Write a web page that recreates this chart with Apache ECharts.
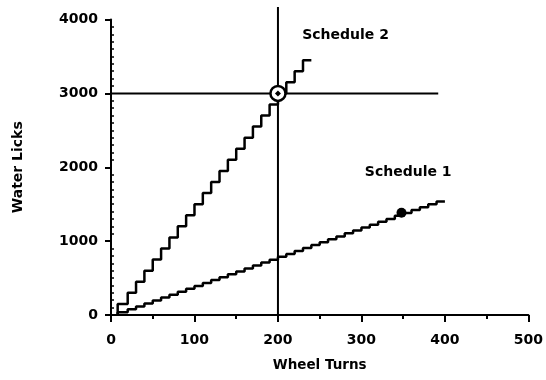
<!DOCTYPE html>
<html>
<head>
    <meta charset="utf-8">
    <title>Water Licks vs Wheel Turns</title>
    <script src="https://cdn.jsdelivr.net/npm/echarts@6/dist/echarts.min.js"></script>
</head>
<body style="margin:0;">
    <div id='main' style='width:546px;height:380px;'></div>
    <script>
        // data
        var sched1Turns = [8, 8, 20, 30, 40, 50, 60, 70, 80, 90, 100, 110, 120, 130, 140, 150, 160, 170, 180, 190, 200,
                           210, 220, 230, 240, 250, 260, 270, 280, 290, 300, 310, 320, 330, 340, 350, 360, 370, 380, 390, 400];
        var sched1Licks = [0, 38, 78, 116, 157, 196, 236, 275, 316, 354, 393, 432, 474, 512, 553, 590, 631, 670, 712, 748, 788,
                           827, 868, 906, 947, 985, 1026, 1064, 1105, 1143, 1183, 1222, 1263, 1300, 1342, 1380, 1420, 1458, 1500, 1538, 1538];
        var sched2Turns = [8, 8, 20, 30, 40, 50, 60, 70, 80, 90, 100, 110, 120, 130, 140, 150, 160, 170, 180, 190, 200, 210, 220, 230, 240];
        var sched2Licks = [0, 150, 300, 450, 600, 750, 900, 1050, 1200, 1350, 1500, 1650, 1800, 1950, 2100, 2250, 2400, 2550, 2700, 2850, 3000, 3150, 3300, 3450, 3450];
        var crossPoint = [200, 3000];
        var sched1Dot = [348, 1385];
        var hLine = [[-9, 3000], [392, 3000]];
        var vLine = [[200, 0], [200, 4170]];
        var seriesLabels = [
            {name: 'Schedule 2', value: [281, 3785]},
            {name: 'Schedule 1', value: [356, 1925]}
        ];
        var xTicks = [0, 100, 200, 300, 400, 500];
        var yTicks = [0, 1000, 2000, 3000, 4000];

        function zip(xs, ys) {
            var out = [];
            for (var i = 0; i < xs.length; i++) out.push([xs[i], ys[i]]);
            return out;
        }

        var font = 'DejaVu Sans';
        var myChart = echarts.init(document.getElementById('main'));
        myChart.setOption({
            animation: false,
            backgroundColor: '#fff',
            grid: {left: 111, right: 16, top: 19.5, bottom: 65},
            xAxis: {
                type: 'value', min: xTicks[0], max: xTicks[xTicks.length - 1], interval: 100,
                name: 'Wheel Turns', nameLocation: 'middle', nameGap: 43,
                nameTextStyle: {fontFamily: font, fontWeight: 'bold', fontSize: 13.5, color: '#000'},
                axisLine: {lineStyle: {color: '#000', width: 2}},
                axisTick: {length: 7, lineStyle: {color: '#000', width: 2}},
                minorTick: {show: true, splitNumber: 2, length: 4, lineStyle: {color: '#000', width: 2}},
                axisLabel: {margin: 18, fontFamily: font, fontWeight: 'bold', fontSize: 14, color: '#000',
                            formatter: function (v) { return String(v); }},
                splitLine: {show: false}
            },
            yAxis: [{
                type: 'value', min: yTicks[0], max: yTicks[yTicks.length - 1], interval: 1000,
                name: 'Water Licks', nameLocation: 'middle', nameGap: 86,
                nameTextStyle: {fontFamily: font, fontWeight: 'bold', fontSize: 14, color: '#000'},
                axisLine: {lineStyle: {color: '#000', width: 2}},
                axisTick: {length: 6, lineStyle: {color: '#000', width: 2}},
                axisLabel: {margin: 13, fontFamily: font, fontWeight: 'bold', fontSize: 14, color: '#000',
                            formatter: function (v) { return String(v); }},
                splitLine: {show: false}
            }, {
                // minor ticks pointing inward
                type: 'value', min: 0, max: 4000, interval: 1000, position: 'left',
                axisLine: {show: false},
                axisTick: {show: false, inside: true},
                axisLabel: {show: false},
                minorTick: {show: true, splitNumber: 10, length: 3, lineStyle: {color: '#000', width: 1.5}},
                splitLine: {show: false}
            }],
            series: [{
                type: 'line', data: hLine, clip: false, symbol: 'none', silent: true,
                lineStyle: {color: '#000', width: 2}
            }, {
                type: 'line', data: vLine, clip: false, symbol: 'none', silent: true,
                lineStyle: {color: '#000', width: 2}
            }, {
                name: 'Schedule 1', type: 'line', step: 'end', symbol: 'none',
                data: zip(sched1Turns, sched1Licks),
                lineStyle: {color: '#000', width: 2.5}
            }, {
                name: 'Schedule 2', type: 'line', step: 'end', symbol: 'none',
                data: zip(sched2Turns, sched2Licks),
                lineStyle: {color: '#000', width: 2.5}
            }, {
                type: 'scatter', data: [crossPoint], symbol: 'circle', symbolSize: 15,
                itemStyle: {color: '#fff', borderColor: '#000', borderWidth: 2.5, opacity: 1}, z: 5
            }, {
                type: 'scatter', data: [crossPoint], symbol: 'diamond', symbolSize: 6,
                itemStyle: {color: '#000', opacity: 1}, z: 6
            }, {
                type: 'scatter', data: [sched1Dot], symbol: 'circle', symbolSize: 10,
                itemStyle: {color: '#000', opacity: 1}, z: 5
            }, {
                type: 'scatter', data: seriesLabels, symbolSize: 0, z: 7,
                itemStyle: {opacity: 1},
                label: {
                    show: true, position: 'inside', formatter: '{b}',
                    fontFamily: font, fontWeight: 'bold', fontSize: 14, color: '#000'
                }
            }]
        });
    </script>
</body>
</html>
